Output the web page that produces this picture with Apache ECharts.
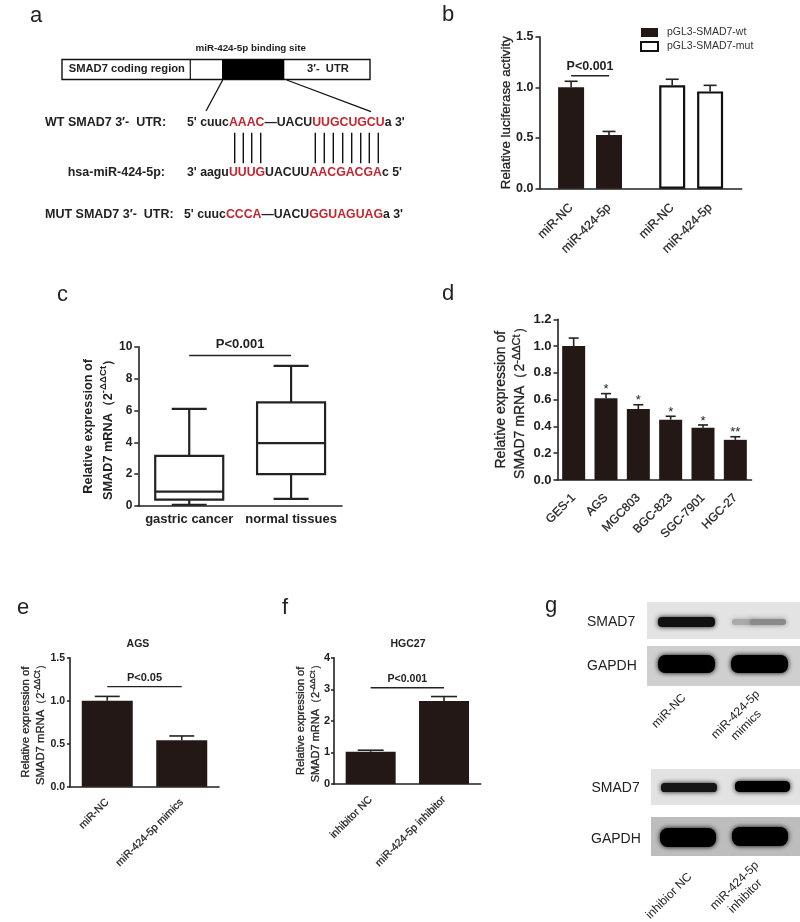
<!DOCTYPE html>
<html style="height: 100%">
<head>
    <meta charset="utf-8">
</head>
<body style="height: 100%; margin: 0; background: #fff">
<div id="container" style="width: 800px; height: 922px"></div>
<script type="text/javascript" src="https://cdn.jsdelivr.net/npm/echarts@6/dist/echarts.min.js"></script>
<script type="text/javascript">
  // panel b, blank slots keep the gap between the two groups
  const bCategories = ['', '', 'miR-NC', '', '', 'miR-424-5p', '', '', '', '', 'miR-NC', '', '', 'miR-424-5p', '', ''];
  const bWtValues = [1.0, 0.53];
  const bWtTops = [1.06, 0.565];
  const bMutValues = [1.02, 0.96];
  const bMutTops = [1.08, 1.02];
  const bLegend = ['pGL3-SMAD7-wt', 'pGL3-SMAD7-mut'];

  // panel c, [min, q1, median, q3, max]
  const cCategories = ['gastric cancer', 'normal tissues'];
  const cBoxes = [
    [0.08, 0.4, 0.9, 3.15, 6.1],
    [0.45, 2.0, 3.95, 6.5, 8.8]
  ];

  // panel d
  const dCategories = ['GES-1', 'AGS', 'MGC803', 'BGC-823', 'SGC-7901', 'HGC-27'];
  const dValues = [1.0, 0.61, 0.53, 0.45, 0.39, 0.30];
  const dTops = [1.06, 0.645, 0.562, 0.476, 0.411, 0.323];
  const dStars = ['', '*', '*', '*', '*', '**'];

  // panel e
  const eCategories = ['miR-NC', 'miR-424-5p mimics'];
  const eValues = [1.0, 0.54];
  const eTops = [1.05, 0.59];

  // panel f
  const fCategories = ['inhibitor NC', 'miR-424-5p inhibitor'];
  const fValues = [1.02, 2.63];
  const fTops = [1.07, 2.77];

  const ink = '#222';
  const barColor = '#231815';
  const sans = '"Liberation Sans", Arial, sans-serif';

  const labelSlots = [];
  bCategories.forEach((c, i) => { if (c) labelSlots.push(i); });

  function gridBox (x0, y0, x1, y1) {
    return { left: x0, top: y0, width: x1 - x0, height: y1 - y0, containLabel: false };
  }

  function xAxisFor (grid, data, opts) {
    return {
      type: 'category',
      gridIndex: grid,
      data: data,
      axisLine: { lineStyle: { color: ink, width: 1.6 } },
      axisTick: {
        alignWithLabel: true,
        length: 4,
        lineStyle: { color: ink, width: 1.5 },
        interval: (i, v) => v !== ''
      },
      axisLabel: Object.assign({
        interval: (i, v) => v !== '',
        rotate: 45,
        margin: 16,
        color: ink,
        fontFamily: sans,
        fontSize: 12,
        textBorderColor: ink,
        textBorderWidth: 0.25
      }, opts || {})
    };
  }

  function yAxisFor (grid, max, interval, digits, name, o) {
    const heavy = o.bold ? 0 : 0.3;
    return {
      type: 'value',
      gridIndex: grid,
      min: 0,
      max: max,
      interval: interval,
      splitLine: { show: false },
      axisLine: { show: true, lineStyle: { color: ink, width: 1.6 } },
      axisTick: { show: true, length: o.tick, lineStyle: { color: ink, width: 1.5 } },
      axisLabel: {
        color: ink,
        margin: o.margin,
        fontFamily: sans,
        fontWeight: 'bold',
        fontSize: o.labelSize,
        formatter: v => v.toFixed(digits)
      },
      name: name,
      nameLocation: 'middle',
      nameGap: o.gap,
      nameMoveOverlap: false,
      nameRotate: 90,
      nameTextStyle: {
        color: ink,
        fontFamily: sans,
        fontSize: o.size,
        fontWeight: o.bold ? 'bold' : 'normal',
        lineHeight: o.lineHeight,
        textBorderColor: ink,
        textBorderWidth: heavy,
        rich: {
          sup: { fontSize: o.size - 3, fontFamily: sans, color: ink, verticalAlign: 'top', lineHeight: o.lineHeight }
        }
      }
    };
  }

  function barSeries (grid, values, width, name) {
    return {
      type: 'bar',
      name: name,
      xAxisIndex: grid,
      yAxisIndex: grid,
      data: values,
      barWidth: width,
      itemStyle: { color: barColor },
      animation: false
    };
  }

  // upper error bar with a cap, optional star above it
  function errorSeries (grid, rows, capWidth, stars) {
    return {
      type: 'custom',
      xAxisIndex: grid,
      yAxisIndex: grid,
      data: rows,
      z: 1,
      silent: true,
      animation: false,
      renderItem: function (params, api) {
        const x = api.value(0);
        const base = api.coord([x, api.value(1)]);
        const top = api.coord([x, api.value(2)]);
        const lineStyle = { stroke: ink, lineWidth: 1.6 };
        const children = [
          { type: 'line', shape: { x1: base[0], y1: base[1], x2: top[0], y2: top[1] }, style: lineStyle },
          { type: 'line', shape: { x1: top[0] - capWidth / 2, y1: top[1], x2: top[0] + capWidth / 2, y2: top[1] }, style: lineStyle }
        ];
        const star = stars && stars[params.dataIndex];
        if (star) {
          children.push({
            type: 'text',
            style: { x: top[0], y: top[1] - 4, text: star, fill: ink, font: '13px ' + sans, textAlign: 'center', textVerticalAlign: 'middle' }
          });
        }
        return { type: 'group', children: children };
      }
    };
  }

  // significance line between two categories with its label above
  function bracketSeries (grid, from, to, level, label, fontSize, gap, lineWidth) {
    return {
      type: 'custom',
      xAxisIndex: grid,
      yAxisIndex: grid,
      data: [[from, level]],
      silent: true,
      animation: false,
      renderItem: function (params, api) {
        const a = api.coord([from, level]);
        const b = api.coord([to, level]);
        return {
          type: 'group',
          children: [
            { type: 'line', shape: { x1: a[0], y1: a[1], x2: b[0], y2: b[1] }, style: { stroke: ink, lineWidth: lineWidth } },
            { type: 'text', style: { x: (a[0] + b[0]) / 2, y: a[1] - gap, text: label, fill: ink, font: 'bold ' + fontSize + 'px ' + sans, textAlign: 'center', textVerticalAlign: 'middle' } }
          ]
        };
      }
    };
  }

  function boxSeries (grid, boxes, boxWidth, capWidth) {
    return {
      type: 'custom',
      xAxisIndex: grid,
      yAxisIndex: grid,
      data: boxes.map((b, i) => [i].concat(b)),
      silent: true,
      animation: false,
      renderItem: function (params, api) {
        const x = api.value(0);
        const p = [1, 2, 3, 4, 5].map(d => api.coord([x, api.value(d)]));
        const cx = p[0][0];
        const hw = boxWidth / 2;
        const cw = capWidth / 2;
        const s = { stroke: ink, lineWidth: 2.2, fill: 'none' };
        const seg = (x1, y1, x2, y2) => ({ type: 'line', shape: { x1, y1, x2, y2 }, style: s });
        return {
          type: 'group',
          children: [
            seg(cx, p[0][1], cx, p[1][1]),
            seg(cx - cw, p[0][1], cx + cw, p[0][1]),
            seg(cx, p[3][1], cx, p[4][1]),
            seg(cx - cw, p[4][1], cx + cw, p[4][1]),
            { type: 'rect', shape: { x: cx - hw, y: p[3][1], width: boxWidth, height: p[1][1] - p[3][1] }, style: s },
            seg(cx - hw, p[2][1], cx + hw, p[2][1])
          ]
        };
      }
    };
  }

  const exprName = 'Relative expression of\nSMAD7 mRNA\uFF082{sup|-\u0394\u0394Ct}\uFF09';

  const grids = [
    gridBox(539.5, 36.7, 741.7, 188.7),
    gridBox(138.3, 346.7, 342, 506),
    gridBox(557.5, 319.3, 751.5, 480),
    gridBox(70, 657.7, 219, 786.7),
    gridBox(334, 657.7, 480.7, 784)
  ];

  const xAxes = [
    xAxisFor(0, bCategories, { fontSize: 12.3, margin: 17 }),
    xAxisFor(1, cCategories, { rotate: 0, fontWeight: 'bold', fontSize: 13, margin: 7, textBorderWidth: 0 }),
    xAxisFor(2, dCategories, { fontSize: 12 }),
    xAxisFor(3, eCategories, { fontSize: 10.5, margin: 14 }),
    xAxisFor(4, fCategories, { fontSize: 10.5, margin: 14 })
  ];

  const yAxes = [
    yAxisFor(0, 1.5, 0.5, 1, 'Relative luciferase activity', { gap: 24, size: 13.3, lineHeight: 18, labelSize: 12.5, margin: 6, tick: 4 }),
    yAxisFor(1, 10, 2, 0, exprName, { gap: 20, size: 12.7, lineHeight: 19.7, labelSize: 12, margin: 6, tick: 4, bold: true }),
    yAxisFor(2, 1.2, 0.2, 1, exprName, { gap: 27.5, size: 14, lineHeight: 19, labelSize: 13, margin: 6, tick: 4 }),
    yAxisFor(3, 1.5, 0.5, 1, exprName, { gap: 21.5, size: 11.3, lineHeight: 15, labelSize: 10.5, margin: 5, tick: 3 }),
    yAxisFor(4, 4, 1, 0, exprName, { gap: 10.5, size: 11, lineHeight: 15, labelSize: 11, margin: 4, tick: 3 })
  ];

  const series = [
    barSeries(0, labelSlots.slice(0, 2).map((s, i) => [s, bWtValues[i]]), 26, bLegend[0]),
    Object.assign(barSeries(0, labelSlots.slice(2).map((s, i) => [s, bMutValues[i]]), 26, bLegend[1]), {
      barGap: '-100%',
      itemStyle: { color: '#fff', borderColor: '#111', borderWidth: 2.2 }
    }),
    errorSeries(0, labelSlots.map((s, i) => [s].concat(i < 2 ? [bWtValues[i], bWtTops[i]] : [bMutValues[i - 2], bMutTops[i - 2]])), 13),
    bracketSeries(0, labelSlots[0], labelSlots[1], 1.115, 'P<0.001', 12.5, 9, 1.4),

    boxSeries(1, cBoxes, 68, 35),
    bracketSeries(1, 0, 1, 9.45, 'P<0.001', 13, 11, 1.6),

    barSeries(2, dValues, 23),
    errorSeries(2, dValues.map((v, i) => [i, v, dTops[i]]), 10, dStars),

    barSeries(3, eValues, 51),
    errorSeries(3, eValues.map((v, i) => [i, v, eTops[i]]), 25),
    bracketSeries(3, 0, 1, 1.163, 'P<0.05', 11, 9, 1.3),

    barSeries(4, fValues, 50),
    errorSeries(4, fValues.map((v, i) => [i, v, fTops[i]]), 26),
    bracketSeries(4, 0, 1, 3.05, 'P<0.001', 10.6, 9, 1.5)
  ];

  // schematic in panel a, letters, blots
  function txt (x, y, text, font, extra) {
    return {
      type: 'text',
      x: x,
      y: y,
      rotation: (extra && extra.rotation) || 0,
      style: Object.assign({ text: text, font: font + ' ' + sans, fill: ink, verticalAlign: 'middle', align: 'left' }, (extra && extra.style) || {})
    };
  }
  function seg (x1, y1, x2, y2, w) {
    return { type: 'line', shape: { x1, y1, x2, y2 }, style: { stroke: '#111', lineWidth: w } };
  }
  function seq (x, y, text) {
    return {
      type: 'text',
      x: x,
      y: y,
      style: {
        text: text,
        verticalAlign: 'middle',
        rich: {
          k: { font: 'bold 12.3px ' + sans, fill: '#222', color: '#222' },
          r: { font: 'bold 12.3px ' + sans, fill: '#c5252f', color: '#c5252f' }
        }
      }
    };
  }

  const pairTicks = [234.7, 243.3, 251.7, 260.7, 315.3, 324.3, 333.3, 342.7, 351.7, 360.7, 369.3, 378.3];
  const panelLetters = [['a', 30, 16], ['b', 442, 15], ['c', 57, 295], ['d', 442, 294], ['e', 17, 608], ['f', 282, 608], ['g', 545, 606]];
  const blots = [
    { box: [647, 602, 153, 37], bg: '#e3e3e3', bands: [[658, 617, 57, 10, '#111'], [732, 619, 22, 6, '#aaa'], [750, 619, 36, 6, '#8a8a8a']] },
    { box: [647, 646, 153, 40], bg: '#cfcfcf', bands: [[658, 655, 57, 18, '#000'], [731, 655, 57, 18, '#000']] },
    { box: [651, 769, 149, 36], bg: '#e2e2e2', bands: [[661, 783, 56, 9, '#151515'], [735, 781, 55, 11, '#000']] },
    { box: [651, 817, 149, 39], bg: '#bdbdbd', bands: [[660, 828, 56, 19, '#000'], [732, 827, 56, 19, '#000']] }
  ];
  const blotNames = [['SMAD7', 587, 621.7], ['GAPDH', 587, 666], ['SMAD7', 591.5, 787.7], ['GAPDH', 591, 839]];
  const blotLanes = [['miR-NC', 669, 711], ['miR-424-5p\nmimics', 741, 720], ['inhibior NC', 669, 896], ['miR-424-5p\ninhibitor', 740, 891]];

  const graphics = [
    { type: 'rect', shape: { x: 62, y: 59.5, width: 308, height: 20 }, style: { fill: '#fff', stroke: '#111', lineWidth: 1.4 } },
    { type: 'rect', shape: { x: 222, y: 59.5, width: 62.3, height: 20 }, style: { fill: '#000' } },
    seg(190.3, 59.5, 190.3, 79.5, 1.2),
    seg(222.7, 80, 206, 111, 1.3),
    seg(286.7, 80, 371, 111.7, 1.3),
    txt(250.7, 48, 'miR-424-5p binding site', 'bold 9.8px', { style: { align: 'center' } }),
    txt(68.7, 69, 'SMAD7 coding region', 'bold 11.2px'),
    txt(307, 69, '3\u2032-  UTR', 'bold 11.2px'),
    txt(45, 123, 'WT SMAD7 3\u2032-  UTR:', 'bold 12.5px'),
    txt(67.7, 172.7, 'hsa-miR-424-5p:', 'bold 12.5px'),
    txt(45, 215, 'MUT SMAD7 3\u2032-  UTR:', 'bold 12.5px'),
    seq(187, 123, "{k|5' cuuc}{r|AAAC}{k|\u2014UACU}{r|UUGCUGCU}{k|a 3'}"),
    seq(187, 172.7, "{k|3' aagu}{r|UUUG}{k|UACUU}{r|AACGACGA}{k|c 5'}"),
    seq(184, 215, "{k|5' cuuc}{r|CCCA}{k|\u2014UACU}{r|GGUAGUAG}{k|a 3'}")
  ];
  pairTicks.forEach(x => graphics.push(seg(x, 132.7, x, 163.3, 1.4)));
  panelLetters.forEach(l => graphics.push(txt(l[1], l[2], l[0], '22px')));
  blots.forEach(b => {
    graphics.push({ type: 'rect', shape: { x: b.box[0], y: b.box[1], width: b.box[2], height: b.box[3] }, style: { fill: b.bg } });
    b.bands.forEach(r => {
      graphics.push({
        type: 'rect',
        shape: { x: r[0], y: r[1], width: r[2], height: r[3], r: r[3] / 2.5 },
        style: { fill: r[4], shadowBlur: 5, shadowColor: r[4] }
      });
    });
  });
  blotNames.forEach(n => graphics.push(txt(n[1], n[2], n[0], '14px')));
  blotLanes.forEach(n => graphics.push(txt(n[1], n[2], n[0], '12px', { rotation: Math.PI / 4, style: { align: 'center', lineHeight: 15 } })));
  graphics.push(txt(138, 644, 'AGS', 'bold 10.5px', { style: { align: 'center' } }));
  graphics.push(txt(408, 644, 'HGC27', 'bold 10.5px', { style: { align: 'center' } }));

  const myChart = echarts.init(document.getElementById('container'));
  myChart.setOption({
    animation: false,
    backgroundColor: '#fff',
    grid: grids,
    xAxis: xAxes,
    yAxis: yAxes,
    legend: {
      data: bLegend,
      orient: 'vertical',
      left: 635,
      top: 22,
      itemWidth: 17,
      itemHeight: 9,
      itemGap: 3,
      icon: 'rect',
      textStyle: { fontSize: 10.5, color: '#333', fontFamily: sans, padding: [0, 0, 0, 4] }
    },
    series: series,
    graphic: graphics
  });
</script>
</body>
</html>
